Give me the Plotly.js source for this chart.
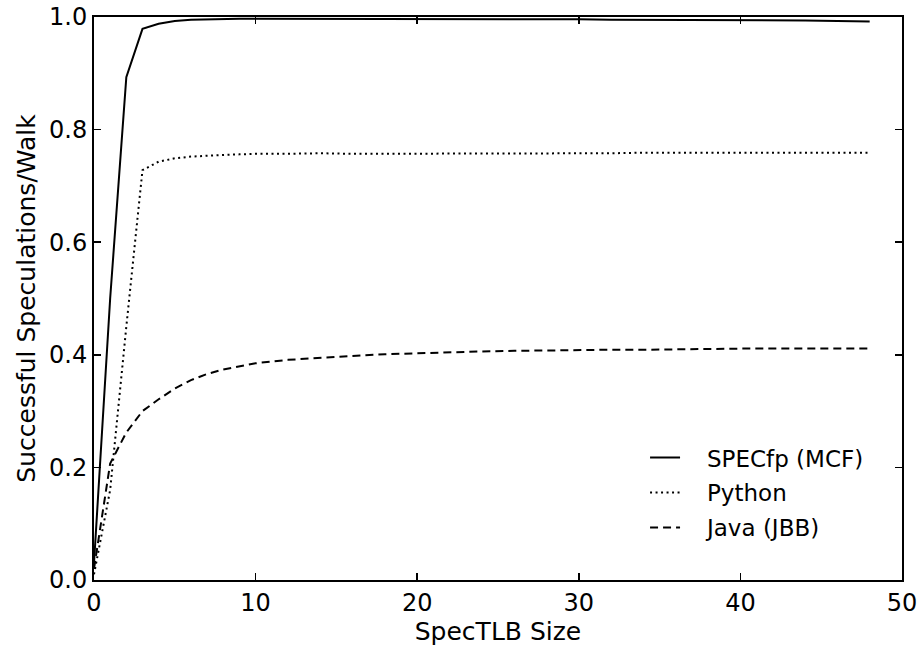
<!DOCTYPE html>
<html>
<head>
<meta charset="utf-8">
<script src="https://cdn.plot.ly/plotly-3.0.1.min.js"></script>
<style>html,body{margin:0;padding:0;background:#fff;}#chart{width:923px;height:649px;}</style>
</head>
<body>
<div id="chart"></div>
<script>
var xSize = [0, 1, 2, 3, 4, 5, 6, 7, 8, 9, 10, 12, 14, 16, 18, 20, 22, 24, 26, 28, 30, 32, 34, 36, 38, 40, 42, 44, 46, 48];
var specfp = [0.03, 0.50, 0.893, 0.979, 0.988, 0.993, 0.995, 0.996, 0.996, 0.997, 0.997, 0.997, 0.997, 0.997, 0.996, 0.996, 0.996, 0.996, 0.996, 0.996, 0.996, 0.995, 0.995, 0.995, 0.995, 0.995, 0.994, 0.994, 0.993, 0.992];
var python = [0.01, 0.16, 0.45, 0.728, 0.743, 0.749, 0.752, 0.754, 0.755, 0.756, 0.757, 0.757, 0.758, 0.757, 0.757, 0.757, 0.757, 0.758, 0.758, 0.758, 0.758, 0.758, 0.759, 0.759, 0.759, 0.759, 0.759, 0.759, 0.759, 0.759];
var java = [0.02, 0.207, 0.262, 0.300, 0.321, 0.340, 0.355, 0.366, 0.374, 0.380, 0.385, 0.391, 0.395, 0.398, 0.401, 0.403, 0.405, 0.406, 0.407, 0.408, 0.408, 0.409, 0.409, 0.410, 0.410, 0.411, 0.411, 0.411, 0.411, 0.411];
var seriesNames = ["SPECfp (MCF)", "Python", "Java (JBB)"];
var xTicks = [0, 10, 20, 30, 40, 50];
var yTicks = [0.0, 0.2, 0.4, 0.6, 0.8, 1.0];
var yTickText = ["0.0", "0.2", "0.4", "0.6", "0.8", "1.0"];

var fontFam = "DejaVu Sans, sans-serif";
var pad = "\u00a0\u00a0\u00a0";
var traces = [
  {x: xSize, y: specfp, name: pad + seriesNames[0], mode: "lines", legendgroup: "a",
   line: {color: "#000", width: 2, dash: "solid"}},
  {x: xSize, y: python, name: pad + seriesNames[1], mode: "lines", legendgroup: "b",
   line: {color: "#000", width: 2, dash: "2px,3.5px"}},
  {x: xSize, y: java, name: pad + seriesNames[2], mode: "lines", legendgroup: "c",
   line: {color: "#000", width: 2, dash: "8px,5px"}}
];
var axisCommon = {
  showgrid: false, zeroline: false, showline: true, linecolor: "#000", linewidth: 2,
  mirror: "ticks", ticks: "inside", ticklen: 7, tickwidth: 1.5, tickcolor: "#000",
  tickfont: {family: fontFam, size: 24, color: "#000"}
};
var layout = {
  width: 923, height: 649,
  margin: {l: 94, r: 21, t: 17, b: 69},
  paper_bgcolor: "#fff", plot_bgcolor: "#fff",
  font: {family: fontFam, color: "#000"},
  showlegend: true,
  legend: {x: 0.682, y: 0.2555, xanchor: "left", yanchor: "top", bgcolor: "rgba(0,0,0,0)",
    font: {family: fontFam, size: 23, color: "#000"}, traceorder: "grouped", tracegroupgap: 2,
    itemwidth: 30},
  xaxis: Object.assign({}, axisCommon, {
    range: [0, 50], tickvals: xTicks, ticktext: xTicks.map(String),
    title: {text: "SpecTLB Size", font: {family: fontFam, size: 25, color: "#000"}, standoff: 2}
  }),
  yaxis: Object.assign({}, axisCommon, {
    range: [0, 1], tickvals: yTicks, ticktext: yTickText,
    title: {text: "Successful Speculations/Walk", font: {family: fontFam, size: 25, color: "#000"}, standoff: 6}
  })
};
Plotly.newPlot("chart", traces, layout, {displayModeBar: false, staticPlot: true});
</script>
</body>
</html>
